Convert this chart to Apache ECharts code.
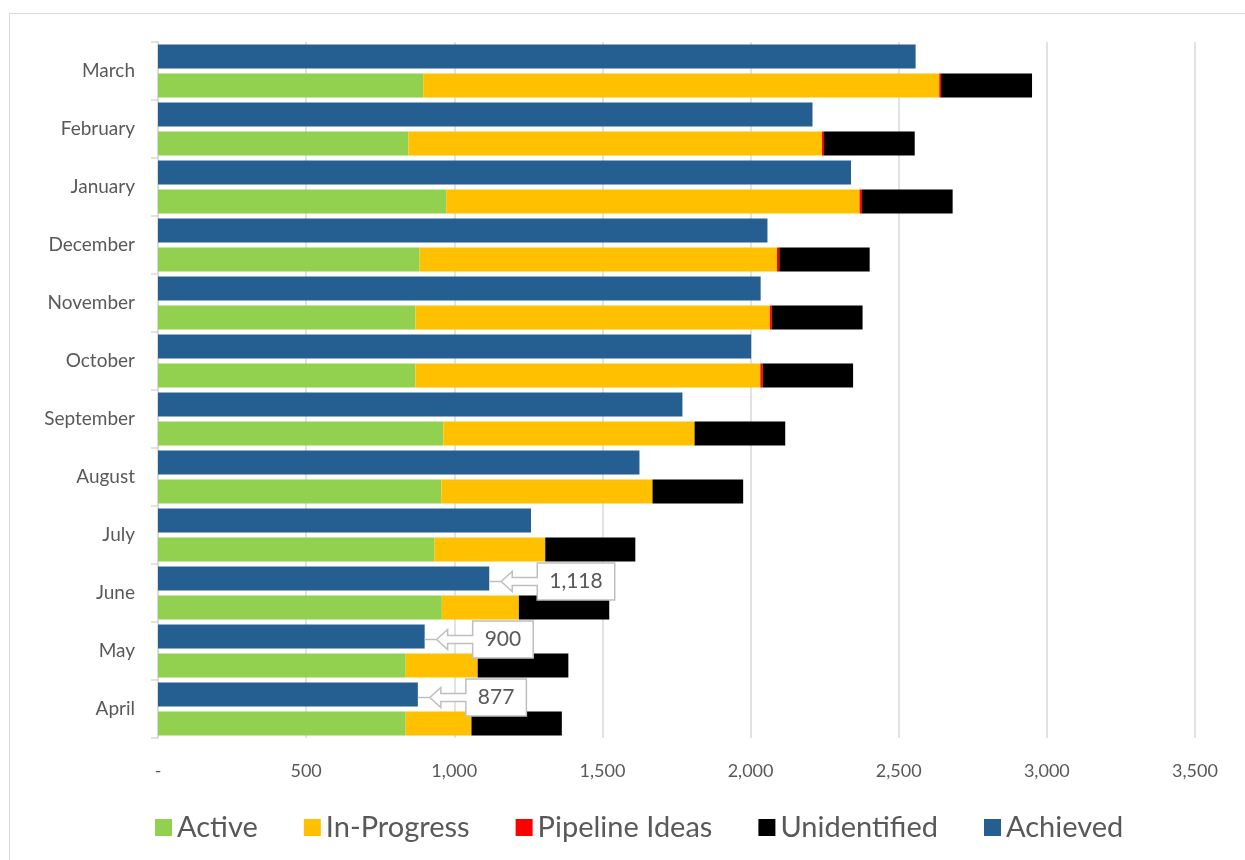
<!DOCTYPE html>
<html>
<head>
<meta charset="utf-8">
<script src="https://cdn.jsdelivr.net/npm/echarts@6/dist/echarts.min.js"></script>
<style>html,body{margin:0;padding:0;background:#fff;}#c{width:1245px;height:860px;}</style>
</head>
<body>
<div id="c"></div>
<script>
var categories = ['April','May','June','July','August','September','October','November','December','January','February','March'];
var active       = [836, 836, 958, 933, 956, 963, 869, 869, 883, 973, 845, 895];
var inProgress   = [222, 243, 260, 374, 713, 848, 1164, 1196, 1206, 1395, 1396, 1742];
var pipeline     = [0, 0, 0, 0, 0, 0, 8, 7, 8, 8, 7, 6];
var unidentified = [305, 306, 305, 304, 306, 306, 305, 306, 305, 306, 306, 307];
var achieved     = [877, 900, 1118, 1259, 1625, 1770, 2002, 2034, 2057, 2339, 2209, 2557];
var calloutIdx   = [0, 1, 2];
var xTicks = {min: 0, max: 3500, interval: 500};

var FONT = 'Lato';
var TXT = '#595959';
var GRIDC = '#d9d9d9';

function fmt(v){ return v === 0 ? '-' : v.toLocaleString('en-US'); }

var mctx = document.createElement('canvas').getContext('2d');
function textW(s, size){ mctx.font = size + 'px ' + FONT; return mctx.measureText(s).width; }

var calloutData = calloutIdx.map(function(i){ return [achieved[i], i]; });

var chart = echarts.init(document.getElementById('c'), null, {renderer: 'canvas'});
var BW = 24;
function barSeries(name, data, color){
  return {
    name: name, type: 'bar', stack: 'total', data: data, barWidth: BW, barGap: '21%',
    itemStyle: {color: color}, emphasis: {disabled: true}
  };
}
chart.setOption({
  animation: false,
  grid: {left: 158, right: 50, top: 42, bottom: 122, containLabel: false},
  graphic: [{
    type: 'rect', shape: {x: 9.5, y: 13.5, width: 1240, height: 850},
    style: {fill: 'none', stroke: GRIDC, lineWidth: 1}, silent: true, z: -10
  }],
  legend: {
    bottom: 13, left: 150, itemWidth: 17, itemHeight: 17, itemGap: 46,
    icon: 'rect',
    textStyle: {fontFamily: FONT, fontSize: 29, color: TXT},
    data: ['Active','In-Progress','Pipeline Ideas','Unidentified','Achieved']
  },
  xAxis: {
    type: 'value', min: xTicks.min, max: xTicks.max, interval: xTicks.interval,
    axisLine: {show: false}, axisTick: {show: false},
    splitLine: {show: true, lineStyle: {color: GRIDC, width: 1.5}},
    axisLabel: {formatter: fmt, fontFamily: FONT, fontSize: 18, color: TXT, margin: 24}
  },
  yAxis: {
    type: 'category', data: categories,
    axisLine: {show: true, lineStyle: {color: GRIDC, width: 1.5}},
    axisTick: {show: true, length: 7, lineStyle: {color: GRIDC, width: 1.5}},
    axisLabel: {fontFamily: FONT, fontSize: 19, color: TXT, margin: 23}
  },
  series: [
    {
      name: 'Achieved', type: 'bar', data: achieved, barWidth: BW, barGap: '21%',
      itemStyle: {color: '#255E91'}, emphasis: {disabled: true}
    },
    barSeries('Active', active, '#92D050'),
    barSeries('In-Progress', inProgress, '#FFC000'),
    barSeries('Pipeline Ideas', pipeline, '#FF0000'),
    barSeries('Unidentified', unidentified, '#000000'),
    {
      type: 'custom', name: 'callouts', data: calloutData, clip: false, z: 10,
      encode: {x: 0, y: 1}, silent: true,
      renderItem: function(params, api){
        var v = api.value(0), ci = api.value(1);
        var p = api.coord([v, ci]);
        var cy = p[1] - (BW + 5) / 2 + 3;
        var label = fmt(v);
        var fs = 21;
        var w = textW(label, fs) + 24;
        var h = 37;
        var tip = p[0] + 12;
        var bx = tip + 36;
        var shaftX = tip + 11;
        var y0 = cy - h / 2, y1 = cy + h / 2;
        var pts = [[bx, y0],[bx + w, y0],[bx + w, y1],[bx, y1],[bx, cy + 4],[shaftX, cy + 4],[shaftX, cy + 10],[tip, cy],[shaftX, cy - 10],[shaftX, cy - 4],[bx, cy - 4]];
        return {
          type: 'group',
          children: [
            {type: 'line', shape: {x1: p[0], y1: cy, x2: tip, y2: cy}, style: {stroke: '#bfbfbf', lineWidth: 1.5}},
            {type: 'polygon', shape: {points: pts}, style: {fill: '#fff', stroke: '#bfbfbf', lineWidth: 1.5}},
            {type: 'text', style: {text: label, x: bx + w / 2, y: cy, align: 'center', verticalAlign: 'middle', fontFamily: FONT, fontSize: fs, fill: TXT}}
          ]
        };
      }
    }
  ]
});
</script>
</body>
</html>
